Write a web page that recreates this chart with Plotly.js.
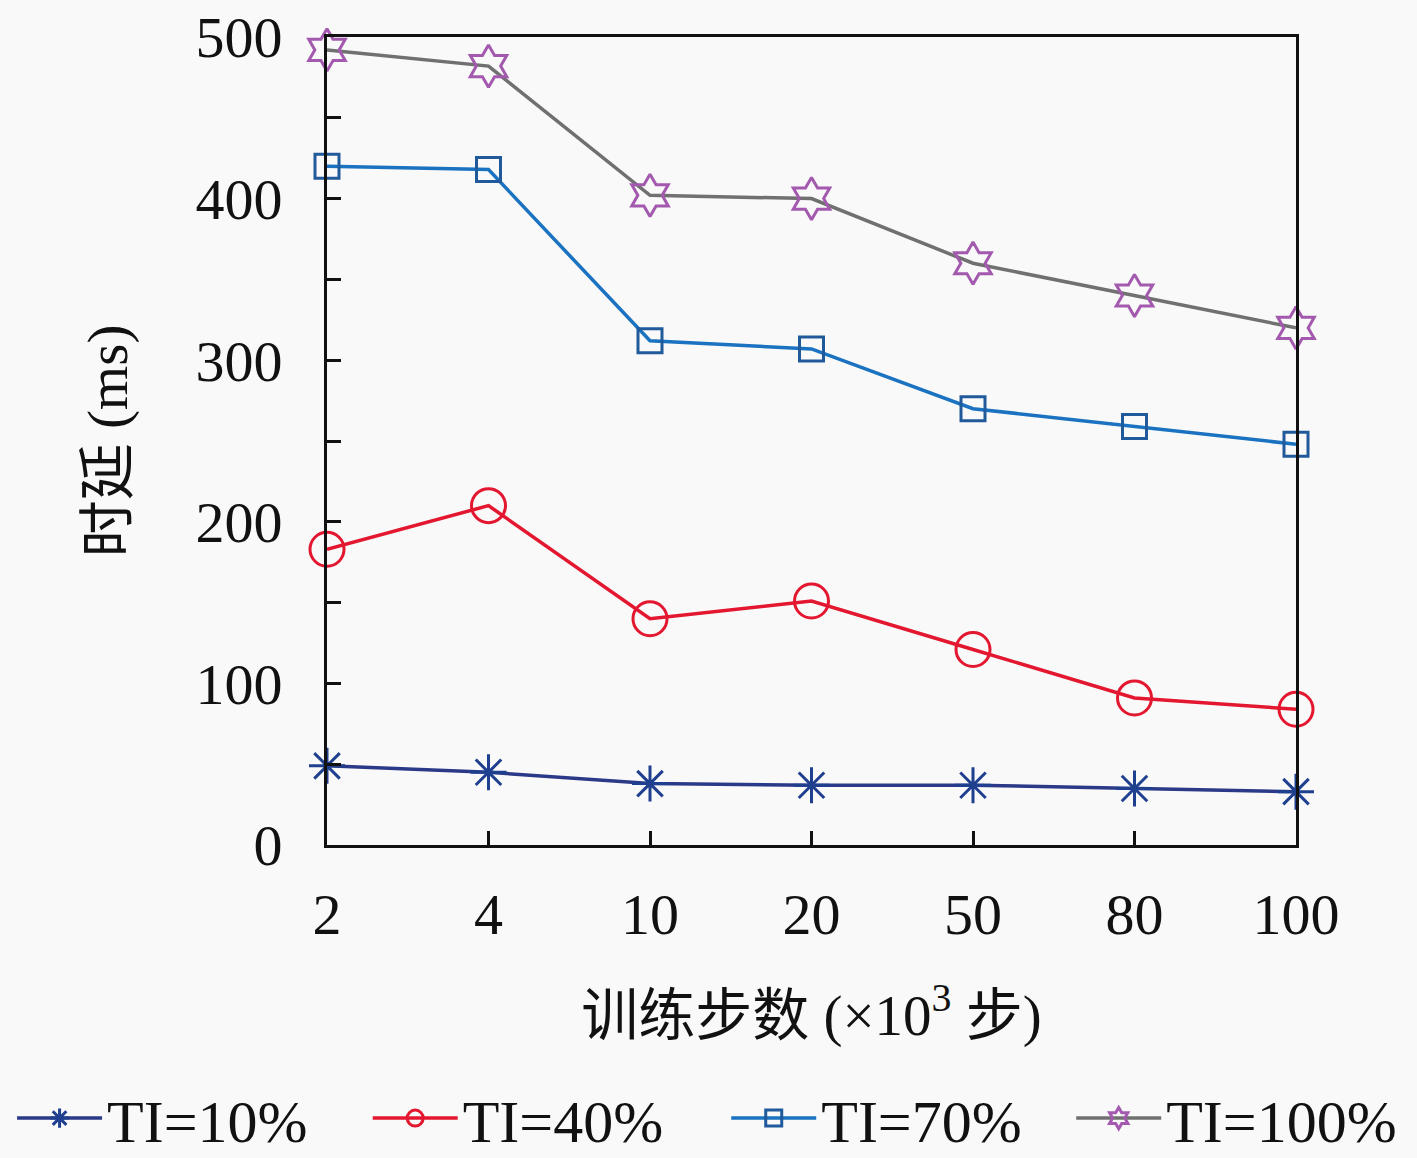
<!DOCTYPE html>
<html>
<head>
<meta charset="utf-8">
<script src="https://cdn.plot.ly/plotly-3.0.1.min.js"></script>
<style>
  html, body { margin: 0; padding: 0; background: #f9f9f9; }
  #chart { width: 1417px; height: 1158px; }
</style>
</head>
<body>
<div id="chart"></div>
<script>
"use strict";

const steps = ["2", "4", "10", "20", "50", "80", "100"];
const ti10 = [49, 45, 38, 37, 37, 35, 33];
const ti40 = [183, 210, 140, 151, 121, 91, 84];
const ti70 = [420, 418, 312, 307, 270, 259, 248];
const ti100 = [492, 482, 402, 400, 360, 340, 320];

const serif = "'Liberation Serif', 'DejaVu Serif', 'Noto Sans CJK SC', serif";

const makeTrace = (name, values, lineColor, symbol, markerColor, size, legendId) => ({
    type: "scatter",
    mode: "lines+markers",
    name: name,
    legend: legendId,
    x: steps,
    y: values,
    line: { color: lineColor, width: 3.5 },
    marker: {
        symbol: symbol,
        size: size,
        color: markerColor,
        line: { color: markerColor, width: 3 },
    },
    cliponaxis: false,
});

const traces = [
    makeTrace("TI=10%", ti10, "#2b3a88", "asterisk-open", "#1f3f8f", 30, "legend"),
    makeTrace("TI=40%", ti40, "#e3172f", "circle-open", "#e3172f", 34, "legend2"),
    makeTrace("TI=70%", ti70, "#1a72c0", "square-open", "#205a9a", 24, "legend3"),
    makeTrace("TI=100%", ti100, "#707070", "hexagram-open", "#a35aae", 32, "legend4"),
];

// one legend per series so each entry sits where the reference has it
const legendBox = (x) => ({
    orientation: "h",
    x: x,
    xanchor: "left",
    y: -0.338,
    yanchor: "middle",
    bgcolor: "rgba(0,0,0,0)",
    font: { family: serif, size: 60 },
    itemwidth: 85,
});

Plotly.newPlot(
    "chart",
    traces,
    {
        width: 1417,
        height: 1158,
        margin: { l: 327, r: 121, t: 37, b: 313, autoexpand: false },
        paper_bgcolor: "#f9f9f9",
        plot_bgcolor: "#f9f9f9",
        font: { family: serif, size: 58, color: "#111" },
        showlegend: true,
        xaxis: {
            type: "category",
            range: [0, 6],
            automargin: false,
            showline: true,
            linecolor: "#111",
            linewidth: 3,
            mirror: true,
            showgrid: false,
            zeroline: false,
            ticks: "inside",
            ticklen: 14,
            tickwidth: 3,
            tickcolor: "#111",
            ticklabelstandoff: 16,
            tickfont: { family: serif, size: 58 },
            title: {
                text: "训练步数 (×10<sup>3</sup> 步)",
                font: { family: serif, size: 57 },
                standoff: 50,
            },
        },
        yaxis: {
            range: [0, 500],
            dtick: 100,
            automargin: false,
            showline: true,
            linecolor: "#111",
            linewidth: 3,
            mirror: true,
            showgrid: false,
            zeroline: false,
            ticks: "inside",
            ticklen: 14,
            tickwidth: 3,
            tickcolor: "#111",
            ticklabelstandoff: 30,
            tickfont: { family: serif, size: 58 },
            minor: {
                dtick: 50,
                ticks: "inside",
                ticklen: 14,
                tickwidth: 3,
                tickcolor: "#111",
                showgrid: false,
            },
            title: {
                text: "时延 (ms)",
                font: { family: serif, size: 57 },
                standoff: 50,
            },
        },
        legend: legendBox(-0.325),
        legend2: legendBox(0.042),
        legend3: legendBox(0.412),
        legend4: legendBox(0.768),
    },
    {
        displayModeBar: false,
        staticPlot: true,
    }
);
</script>
</body>
</html>
